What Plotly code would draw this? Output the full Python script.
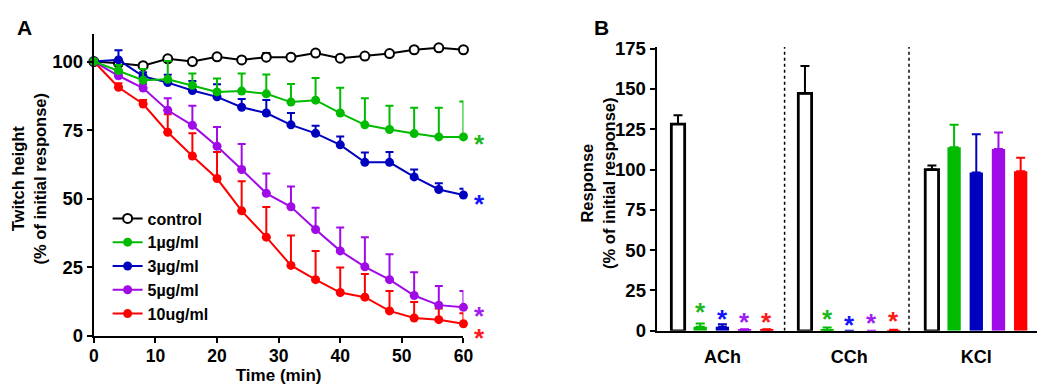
import plotly.graph_objects as go

W, H = 1045, 387
FONT = "Liberation Sans, Arial, Helvetica, sans-serif"

# ---------------- Panel A data ----------------
time_min = [0, 4, 8, 12, 16, 20, 24, 28, 32, 36, 40, 44, 48, 52, 56, 60]
control = [100, 99.4, 98.5, 101, 100, 101.7, 100.6, 101.6, 101.6, 103.1, 101.2, 102, 102.9, 104.3, 105, 104.3]
control_err = [0, 0.5, 0.5, 0.8, 0.5, 0.5, 0.5, 1.5, 0.5, 0.5, 0.5, 0.5, 0.5, 0.5, 0.5, 0.5]
dose1 = [100, 96.7, 93.2, 93.5, 91.3, 88.9, 89.2, 88.2, 85.2, 85.9, 81.2, 76.9, 75.2, 73.7, 72.5, 72.5]
dose1_err = [0, 2, 4.1, 6.7, 4.3, 4.9, 6.4, 7.1, 6.6, 8.1, 9.2, 9.7, 8.7, 9.4, 10.6, 12.9]
dose3 = [100, 100.6, 94.6, 92.3, 89.4, 87.1, 83.3, 81.2, 76.9, 73.8, 69.6, 63.2, 63.2, 57.9, 53.3, 51.3]
dose3_err = [0, 3.5, 1.5, 2.9, 3.5, 4.6, 3, 4.8, 4.3, 2.8, 3, 3.6, 3.8, 2.7, 2.3, 2.3]
dose5 = [100, 94.8, 90.3, 82.2, 76.7, 69.1, 60.6, 51.9, 47, 38.7, 30.9, 25.1, 20.4, 14.6, 11.1, 10.3]
dose5_err = [0, 1, 1.5, 4.4, 7.2, 7, 9.3, 7.2, 7.4, 7.9, 8.5, 10.8, 9.3, 8.5, 7, 6]
dose10 = [100, 90.6, 84.5, 74.2, 65.5, 57.3, 45.5, 35.9, 25.6, 20.4, 15.7, 14, 9, 6.4, 5.8, 4.3]
dose10_err = [0, 1.5, 1.5, 6.6, 8.3, 9.7, 10.8, 11, 10.9, 10.5, 9.1, 8.5, 7.3, 5.8, 4.1, 3.8]
series_names = ["control", "1µg/ml", "3µg/ml", "5µg/ml", "10ug/ml"]
star_a_y = [72.4, 50.5, 9.8, 1.7]  # significance stars for 1,3,5,10

# ---------------- Panel B data ----------------
agonists = ["ACh", "CCh", "KCl"]
b_control = [128.2, 147.3, 100]
b_control_err = [5.5, 17, 2.5]
b_dose1 = [2.5, 0.5, 113.8]
b_dose1_err = [2, 1.5, 14]
b_dose3 = [2.5, 0, 98.2]
b_dose3_err = [1.5, None, 23.7]
b_dose5 = [0.6, 0, 112.8]
b_dose5_err = [0.4, None, 10.2]
b_dose10 = [0.6, 0.4, 99]
b_dose10_err = [0.4, 0.2, 8.3]
star_b_y = {"ACh": [15.8, 11.8, 10, 10], "CCh": [11.4, 7.9, 8.9, 10.2]}

COL = ["black", "#00BB00", "#0000BF", "#A00AE6", "#FF0000"]
STAR_COL = ["#22B822", "#1414FF", "#A020F0", "#FF1A1A"]

fig = go.Figure()

a_vals = [control, dose1, dose3, dose5, dose10]
a_errs = [control_err, dose1_err, dose3_err, dose5_err, dose10_err]
draw_order = [0, 4, 3, 2, 1]
for i in draw_order:
    is_ctrl = i == 0
    fig.add_trace(go.Scatter(
        x=time_min, y=a_vals[i], name=series_names[i], mode="lines+markers",
        line=dict(color=COL[i], width=2),
        marker=dict(size=9, color="white" if is_ctrl else COL[i],
                    line=dict(color=COL[i], width=2 if is_ctrl else 0)),
        error_y=dict(type="data", symmetric=False, array=a_errs[i],
                     arrayminus=[0] * len(a_errs[i]), color=COL[i], thickness=2, width=4),
        cliponaxis=False, legendrank=i + 1, xaxis="x", yaxis="y",
    ))

b_vals = [b_control, b_dose1, b_dose3, b_dose5, b_dose10]
b_errs = [b_control_err, b_dose1_err, b_dose3_err, b_dose5_err, b_dose10_err]
for i in range(5):
    is_ctrl = i == 0
    fig.add_trace(go.Bar(
        x=agonists, y=b_vals[i], name=series_names[i], showlegend=False,
        marker=dict(color="white" if is_ctrl else COL[i],
                    line=dict(color="black" if is_ctrl else COL[i], width=2.8 if is_ctrl else 0)),
        error_y=dict(type="data", symmetric=False, array=b_errs[i],
                     arrayminus=[0] * 3, color=COL[i], thickness=2, width=4.5),
        xaxis="x2", yaxis="y2",
    ))

BARGAP = 0.126
slot = (1 - BARGAP) / 5
STAR_SIZE = 26
STAR_SHIFT = -7

def axis_common(tsize):
    return dict(showline=True, linewidth=2, linecolor="black", ticks="outside",
                ticklen=5, tickwidth=2, tickcolor="black", showgrid=False,
                zeroline=False,
                tickfont=dict(family=FONT, size=tsize, color="black", weight="bold"))

annotations = []
# Stars panel A
for k, yv in enumerate(star_a_y):
    annotations.append(dict(xref="x domain", yref="y", x=1.06, y=yv, text="*",
                            showarrow=False, yshift=STAR_SHIFT, borderpad=0,
                            font=dict(family=FONT, size=STAR_SIZE, color=STAR_COL[k], weight="bold")))
# Stars panel B
for g, ag in enumerate(agonists):
    if ag in star_b_y:
        for k, yv in enumerate(star_b_y[ag]):
            annotations.append(dict(xref="x2", yref="y2", x=g + (k + 1 - 2) * slot, y=yv,
                                    text="*", showarrow=False, yshift=STAR_SHIFT, borderpad=0,
                                    font=dict(family=FONT, size=STAR_SIZE, color=STAR_COL[k],
                                              weight="bold")))
# Axis titles
annotations.append(dict(xref="paper", yref="paper", x=16 / W, y=1 - 170 / H,
                        text="Twitch height<br>(% of initial response)", textangle=-90,
                        showarrow=False, xanchor="center", yanchor="middle",
                        font=dict(family=FONT, size=16.5, color="black", weight="bold")))
annotations.append(dict(xref="paper", yref="paper", x=593 / W, y=1 - 175 / H,
                        text="Response<br>(% of initial response)", textangle=-90,
                        showarrow=False, xanchor="center", yanchor="middle",
                        font=dict(family=FONT, size=16.5, color="black", weight="bold")))
# Panel labels
annotations.append(dict(xref="paper", yref="paper", x=11.5 / W, y=1 - 11 / H, text="A",
                        showarrow=False, xanchor="center", yanchor="middle",
                        font=dict(family=FONT, size=21, color="black", weight="bold")))
annotations.append(dict(xref="paper", yref="paper", x=597 / W, y=1 - 11 / H, text="B",
                        showarrow=False, xanchor="center", yanchor="middle",
                        font=dict(family=FONT, size=21, color="black", weight="bold")))

shapes = []
for sep in [0.49, 1.47]:
    shapes.append(dict(type="line", xref="x2", yref="y2", x0=sep, x1=sep, y0=0, y1=177,
                       line=dict(color="black", width=1.5, dash="dot")))

fig.update_layout(
    width=W, height=H, margin=dict(l=0, r=0, t=0, b=0),
    paper_bgcolor="white", plot_bgcolor="white",
    font=dict(family=FONT, color="black"),
    barmode="group", bargap=BARGAP, bargroupgap=0.4,
    xaxis=dict(domain=[82 / W, 457 / W], range=[0, 60], tickvals=[0, 10, 20, 30, 40, 50, 60],
               title=dict(text="Time (min)", standoff=0,
                          font=dict(family=FONT, size=17, color="black", weight="bold")),
               ticklabelstandoff=-2, anchor="y", **axis_common(17.5)),
    yaxis=dict(domain=[1 - 335 / H, 1 - 18 / H], range=[0, 110], tickvals=[0, 25, 50, 75, 100],
               anchor="x", **axis_common(18.5)),
    xaxis2=dict(domain=[653 / W, 1043 / W], range=[-0.518, 2.51], type="category",
                showline=True, linewidth=2, linecolor="black", ticks="", showgrid=False,
                zeroline=False, ticklabelstandoff=9,
                tickfont=dict(family=FONT, size=18, color="black", weight="bold"), anchor="y2"),
    yaxis2=dict(domain=[1 - 330 / H, 1 - 31.6 / H], range=[0, 176],
                tickvals=[0, 25, 50, 75, 100, 125, 150, 175], anchor="x2", **axis_common(18.5)),
    legend=dict(x=96 / W, y=1 - 194 / H, xanchor="left", yanchor="top",
                bgcolor="rgba(0,0,0,0)", itemwidth=30, tracegroupgap=0,
                font=dict(family=FONT, size=16, color="black", weight="bold")),
    annotations=annotations, shapes=shapes,
)

fig.write_html("out.html")
